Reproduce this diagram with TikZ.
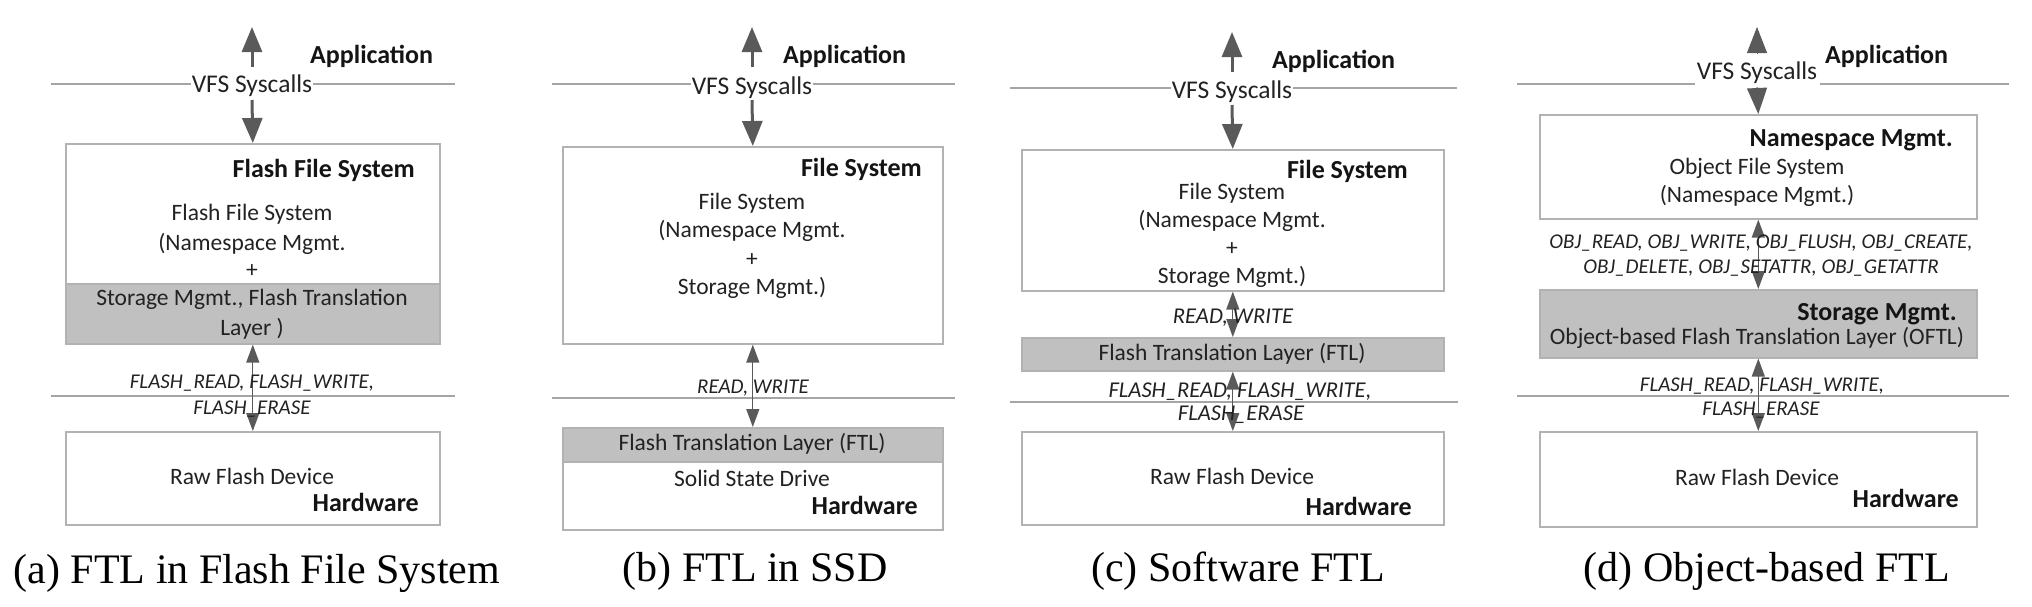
\documentclass[tikz,border=0pt]{standalone}
\usepackage{fontspec}
\setmainfont{Carlito}
\newfontfamily\capfont{Liberation Serif}
\usetikzlibrary{arrows.meta}
\definecolor{boxline}{RGB}{178,178,178}
\definecolor{sepline}{RGB}{165,165,165}
\definecolor{ftlfill}{RGB}{192,192,192}
\definecolor{arr}{RGB}{90,90,90}
\definecolor{txt}{RGB}{34,34,34}
\tikzset{
 box/.style={draw=boxline, line width=1.6pt, inner sep=0pt, anchor=north west},
 whitebox/.style={box, fill=white},
 ftlbox/.style={box, fill=ftlfill},
 sep/.style={draw=sepline, line width=1.3pt},
 reg/.style={font=\fontsize{23.5}{27}\selectfont, text=txt, inner sep=0pt, text height=15.1pt, text depth=0pt},
 vfs/.style={font=\fontsize{25.5}{29}\selectfont, text=txt, inner sep=0pt, text height=16.4pt, text depth=0pt},
 bld/.style={font=\fontsize{26}{30}\selectfont\bfseries, text=black!92, inner sep=0pt, text height=16.7pt, text depth=0pt},
 ital/.style={font=\fontsize{21}{25}\selectfont\itshape, text=txt, inner sep=0pt, text height=13.5pt, text depth=0pt},
 italc/.style={font=\fontsize{22.6}{26}\selectfont\itshape, text=txt, inner sep=0pt, text height=14.5pt, text depth=0pt},
 capt/.style={font=\fontsize{42}{48}\selectfont\capfont, text=black, inner sep=0pt, text height=27.8pt, text depth=0pt},
 vfsbox/.style={vfs, fill=white, inner xsep=1pt, inner ysep=3pt},
 bigarrow/.style={draw=arr, line width=3pt, -{Triangle[width=20pt,length=25pt]}},
 headonly/.style={draw=arr, line width=1pt, -{Triangle[width=20pt,length=26pt]}},
 thinarrow/.style={draw=arr, line width=1.3pt, {Triangle[width=13pt,length=18pt]}-{Triangle[width=13pt,length=18pt]}},
}
\begin{document}
\begin{tikzpicture}[x=1pt,y=-1pt]
\useasboundingbox (0,0) rectangle (2032,606);
% ---------------- panel (a)
\coordinate (aL1) at (51,84); \coordinate (aR1) at (455,84);
\coordinate (aL2) at (51,396); \coordinate (aR2) at (455,396);
\draw[sep] (aL1) -- (aR1);
\draw[sep] (aL2) -- (aR2);
\node[whitebox, minimum width=374pt, minimum height=140pt] (afs) at (65,143) {};
\node[ftlbox, minimum width=374pt, minimum height=60pt] (aftl) at (65,283) {};
\node[whitebox, minimum width=374pt, minimum height=93pt] (araw) at (65,431) {};
\coordinate (aup0) at (252,67); \coordinate (aup1) at (252,27); \coordinate (adn0) at (252,100);
\draw[bigarrow] (aup0) -- (aup1);
\draw[bigarrow] (adn0) -- (afs.north);
\draw[thinarrow] (aftl.south) -- (araw.north);
\node[vfsbox] (avfs) at (252,84) {VFS Syscalls};
\node[bld, anchor=west] (aapp) at (310,55) {Application};
\node[bld, anchor=east] (afst) at (415,169) {Flash File System};
\node[reg] (a1) at (252,213) {Flash File System};
\node[reg] (a2) at (252,243) {(Namespace Mgmt.};
\node[reg] (a3) at (252,270) {+};
\node[reg] (a4) at (252,298) {Storage Mgmt., Flash Translation};
\node[reg] (a5) at (252,328) {Layer )};
\node[ital] (a6) at (252,382) {FLASH\_READ, FLASH\_WRITE,};
\node[ital] (a7) at (252,408) {FLASH\_ERASE};
\node[reg] (a8) at (252,477) {Raw Flash Device};
\node[bld, anchor=east] (ahw) at (419,503) {Hardware};
\node[capt] (acap) at (257,570) {(a) FTL in Flash File System};
% ---------------- panel (b)
\coordinate (bL1) at (552,84); \coordinate (bR1) at (955,84);
\coordinate (bL2) at (552,398); \coordinate (bR2) at (955,398);
\draw[sep] (bL1) -- (bR1);
\draw[sep] (bL2) -- (bR2);
\node[whitebox, minimum width=380pt, minimum height=197pt] (bfs) at (562,146) {};
\node[whitebox, minimum width=380pt, minimum height=102pt] (braw) at (562,427) {};
\node[ftlbox, minimum width=380pt, minimum height=34pt] (bftl) at (562,427) {};
\coordinate (bup0) at (752,67); \coordinate (bup1) at (752,27); \coordinate (bdn0) at (752,100);
\draw[bigarrow] (bup0) -- (bup1);
\draw[bigarrow] (bdn0) -- (bfs.north);
\draw[thinarrow] (bfs.south) -- (bftl.north);
\node[vfsbox] (bvfs) at (752,86) {VFS Syscalls};
\node[bld, anchor=west] (bapp) at (783,55) {Application};
\node[bld, anchor=east] (bfst) at (922,168) {File System};
\node[reg] (b1) at (752,202) {File System};
\node[reg] (b2) at (752,230) {(Namespace Mgmt.};
\node[reg] (b3) at (752,259) {+};
\node[reg] (b4) at (752,287) {Storage Mgmt.)};
\node[ital] (b5) at (753,387) {READ, WRITE};
\node[reg] (b6) at (752,443) {Flash Translation Layer (FTL)};
\node[reg] (b7) at (752,479) {Solid State Drive};
\node[bld, anchor=east] (bhw) at (918,506) {Hardware};
\node[capt] (bcap) at (755,568) {(b) FTL in SSD};
% ---------------- panel (c)
\coordinate (cL1) at (1010,88); \coordinate (cR1) at (1457,88);
\coordinate (cL2) at (1010,402); \coordinate (cR2) at (1458,402);
\draw[sep] (cL1) -- (cR1);
\draw[sep] (cL2) -- (cR2);
\node[whitebox, minimum width=422pt, minimum height=141pt] (cfs) at (1021,149) {};
\node[ftlbox, minimum width=422pt, minimum height=33pt] (cftl) at (1021,337) {};
\node[whitebox, minimum width=422pt, minimum height=93pt] (craw) at (1021,431) {};
\coordinate (cup0) at (1232,72); \coordinate (cup1) at (1232,32); \coordinate (cdn0) at (1232,105);
\draw[bigarrow] (cup0) -- (cup1);
\draw[bigarrow] (cdn0) -- (cfs.north);
\draw[thinarrow] (cfs.south) -- (cftl.north);
\draw[thinarrow] (cftl.south) -- (craw.north);
\node[vfsbox] (cvfs) at (1232,90) {VFS Syscalls};
\node[bld, anchor=west] (capp) at (1272,60) {Application};
\node[bld, anchor=east] (cfst) at (1408,170) {File System};
\node[reg] (c1) at (1232,192) {File System};
\node[reg] (c2) at (1232,220) {(Namespace Mgmt.};
\node[reg] (c3) at (1232,248) {+};
\node[reg] (c4) at (1232,276) {Storage Mgmt.)};
\node[italc] (c5) at (1233,316) {READ, WRITE};
\node[reg] (c6) at (1232,353) {Flash Translation Layer (FTL)};
\node[italc] (c7) at (1240,390) {FLASH\_READ, FLASH\_WRITE,};
\node[italc] (c8) at (1241,413) {FLASH\_ERASE};
\node[reg] (c9) at (1232,477) {Raw Flash Device};
\node[bld, anchor=east] (chw) at (1412,507) {Hardware};
\node[capt] (ccap) at (1238,568) {(c) Software FTL};
% ---------------- panel (d)
\coordinate (dL1) at (1517,84); \coordinate (dM1) at (1695,84);
\coordinate (dM2) at (1820,84); \coordinate (dR1) at (2009,84);
\coordinate (dL2) at (1517,396); \coordinate (dR2) at (2009,396);
\draw[sep] (dL1) -- (dM1);
\draw[sep] (dM2) -- (dR1);
\draw[sep] (dL2) -- (dR2);
\node[whitebox, minimum width=437pt, minimum height=104pt] (dns) at (1539,114) {};
\node[ftlbox, minimum width=437pt, minimum height=68pt] (dftl) at (1539,289) {};
\node[whitebox, minimum width=437pt, minimum height=95pt] (draw) at (1539,431) {};
\coordinate (dup0) at (1757,54); \coordinate (dup1) at (1757,27); \coordinate (ddn0) at (1757,87);
\draw[headonly] (dup0) -- (dup1);
\draw[headonly] (ddn0) -- (dns.north);
\draw[thinarrow] (dns.south) -- (dftl.north);
\draw[thinarrow] (dftl.south) -- (draw.north);
\node[vfs] (dvfs) at (1757,71) {VFS Syscalls};
\node[bld, anchor=west] (dapp) at (1825,55) {Application};
\node[bld, anchor=east] (dnst) at (1953,138) {Namespace Mgmt.};
\node[reg] (d1) at (1757,167) {Object File System};
\node[reg] (d2) at (1757,195) {(Namespace Mgmt.)};
\node[ital] (d3) at (1761,242) {OBJ\_READ, OBJ\_WRITE, OBJ\_FLUSH, OBJ\_CREATE,};
\node[ital] (d4) at (1761,267) {OBJ\_DELETE, OBJ\_SETATTR, OBJ\_GETATTR};
\node[bld, anchor=east] (dsmt) at (1957,312) {Storage Mgmt.};
\node[reg] (d5) at (1757,337) {Object-based Flash Translation Layer (OFTL)};
\node[ital] (d6) at (1762,385) {FLASH\_READ, FLASH\_WRITE,};
\node[ital] (d7) at (1761,409) {FLASH\_ERASE};
\node[reg] (d8) at (1757,478) {Raw Flash Device};
\node[bld, anchor=east] (dhw) at (1959,499) {Hardware};
\node[capt] (dcap) at (1767,568) {(d) Object-based FTL};
\end{tikzpicture}
\end{document}
